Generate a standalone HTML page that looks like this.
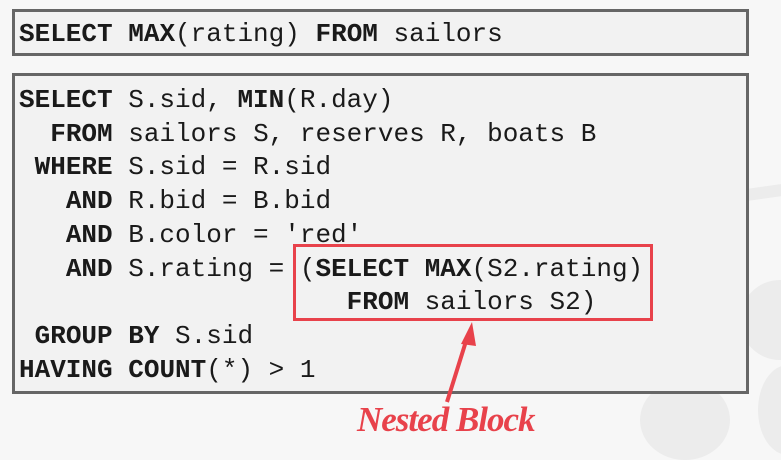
<!DOCTYPE html>
<html><head><meta charset="utf-8"><style>
html,body{margin:0;padding:0;}
body{width:781px;height:442px;position:relative;overflow:hidden;background:#f7f7f7;font-family:"Liberation Mono",monospace;}
.blob{position:absolute;background:#ececec;border-radius:50%;}
.box{position:absolute;background:#f2f2f2;border:3px solid #666;box-sizing:border-box;}
pre{position:absolute;margin:0;font-family:"Liberation Mono",monospace;font-size:26px;line-height:33.7px;color:#1a1a1a;}
b{font-weight:bold;}
</style></head><body>
<div class="blob" style="left:740px;top:280px;width:80px;height:80px;"></div>
<div class="blob" style="left:758px;top:365px;width:60px;height:90px;"></div>
<div class="blob" style="left:640px;top:380px;width:90px;height:80px;"></div>
<div style="position:absolute;left:745px;top:185px;width:60px;height:12px;background:#ececec;transform:rotate(-8deg);"></div>
<div class="box" style="left:12px;top:9px;width:737px;height:47px;"></div>
<div class="box" style="left:12px;top:73px;width:737px;height:321px;"></div>
<pre style="left:19px;top:18px;"><b>SELECT</b> <b>MAX</b>(rating) <b>FROM</b> sailors</pre>
<pre style="left:19px;top:84px;"><b>SELECT</b> S.sid, <b>MIN</b>(R.day)
  <b>FROM</b> sailors S, reserves R, boats B
 <b>WHERE</b> S.sid = R.sid
   <b>AND</b> R.bid = B.bid
   <b>AND</b> B.color = 'red'
   <b>AND</b> S.rating = (<b>SELECT</b> <b>MAX</b>(S2.rating)
                     <b>FROM</b> sailors S2)
 <b>GROUP</b> <b>BY</b> S.sid
<b>HAVING</b> <b>COUNT</b>(*) &gt; 1</pre>
<div style="position:absolute;left:293px;top:244px;width:360px;height:77px;border:3px solid #e8424b;box-sizing:border-box;"></div>
<svg style="position:absolute;left:0;top:0" width="781" height="442">
<line x1="447" y1="402" x2="467" y2="338" stroke="#e8424b" stroke-width="4"/>
<polygon points="472,322 461,344 476,346" fill="#e8424b"/>
</svg>
<div style="position:absolute;left:357px;top:400px;font-family:'Liberation Serif',serif;font-style:italic;font-weight:bold;font-size:35px;color:#e8424b;letter-spacing:-1px;white-space:nowrap;">Nested Block</div>
</body></html>
